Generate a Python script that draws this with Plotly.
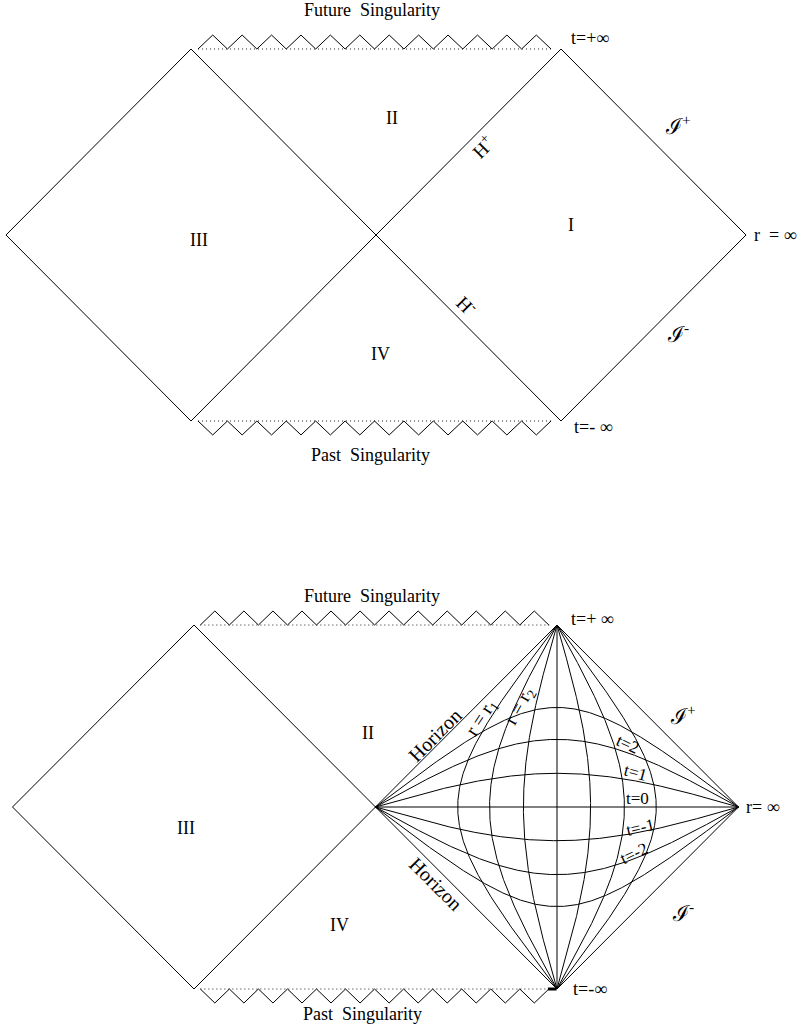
import numpy as np
import plotly.graph_objects as go

# ---------------- data (diagram units) ----------------
# constant-t curve parameters (kappa*t), t = -3..3
T_PARAMS = [-0.99, -0.62, -0.295, 0.0, 0.295, 0.62, 0.99]
# constant-r curve parameters (ln tan Q0)
R_PARAMS = [-0.99, -0.62, -0.295, 0.0, 0.295, 0.62, 0.99]
T_LABELS = ["t=2", "t=1", "t=0", "t=-1", "t=-2"]
REGION_LABELS = ["I", "II", "III", "IV"]
N_TEETH = 12

FONT = "Liberation Serif"
LINE = dict(color="black", width=1)

fig = go.Figure()

def add_line(xs, ys, ax, **kw):
    xa, ya = ax
    line = kw.pop("line", LINE)
    fig.add_trace(go.Scatter(x=xs, y=ys, mode="lines", line=line, xaxis=xa, yaxis=ya,
                             hoverinfo="skip", showlegend=False))

def outline(ax):
    add_line([-1, -2, -1], [1, 0, -1], ax)
    add_line([-1, 1], [1, -1], ax)
    add_line([-1, 1], [-1, 1], ax)
    add_line([1, 2, 1], [1, 0, -1], ax)

def singularities(ax, x0, x1, amp):
    # dotted lines
    add_line([x0, x1 + 0.01], [1, 1], ax, line=dict(color="#222", width=1, dash="1px,3px"))
    add_line([x0, x1 + 0.01], [-1, -1], ax, line=dict(color="#222", width=1, dash="1px,3px"))
    k = np.arange(2 * N_TEETH + 1)
    xs = x0 + (x1 - x0) * k / (2 * N_TEETH)
    bump = np.where(k % 2 == 1, amp, 0.0)
    add_line(xs, 1 + bump, ax)
    add_line(xs, -1 - bump, ax)

def PQ_to_XT(P, Q):
    return (Q - P) / (np.pi / 2), (Q + P) / (np.pi / 2)

TOP = ("x", "y")
BOT = ("x2", "y2")

# ---------- top diagram ----------
outline(TOP)
singularities(TOP, -0.962, 0.946, 0.075)

# ---------- bottom diagram ----------
outline(BOT)
singularities(BOT, -0.965, 0.955, 0.077)

th = np.linspace(0, np.pi / 2, 600)
for a in T_PARAMS:
    lam = np.tan(th)
    P = -np.arctan(lam)
    Q = np.arctan(lam * np.exp(2 * a))
    X, T = PQ_to_XT(P, Q)
    add_line(X, T, BOT)
for b in R_PARAMS:
    c = np.exp(2 * b)
    phi = th
    Q = phi
    with np.errstate(divide="ignore"):
        P = -np.arctan(c / np.tan(np.clip(phi, 1e-12, None)))
    X, T = PQ_to_XT(P, Q)
    add_line(X, T, BOT)
# small mark at t=-inf
add_line([0.95, 0.998], [-1.0, -1.0], BOT, line=dict(color="black", width=3))

# ---------------- annotations ----------------
def ann(text, x, y, ax, size=18, angle=0, xanchor="center"):
    fig.add_annotation(text=text, x=x, y=y, xref=ax[0], yref=ax[1], showarrow=False,
                       textangle=angle, xanchor=xanchor, yanchor="middle",
                       font=dict(family=FONT, size=size, color="black"))

# top
ann("Future  Singularity", -0.02, 1.21, TOP, 18)
ann("Past  Singularity", -0.03, -1.183, TOP, 18)
ann("t=+∞", 1.157, 1.06, TOP, 18)
ann("t=- ∞", 1.173, -1.032, TOP, 18)
ann("r  = ∞", 2.035, 0.0, TOP, 18, xanchor="left")
ann(REGION_LABELS[0], 1.054, 0.054, TOP, 18)
ann(REGION_LABELS[1], 0.086, 0.629, TOP, 18)
ann(REGION_LABELS[2], -0.957, -0.027, TOP, 18)
ann(REGION_LABELS[3], 0.022, -0.64, TOP, 18)
ann("H<sup>+</sup>", 0.573, 0.473, TOP, 19, -45)
ann("H<sup>-</sup>", 0.492, -0.376, TOP, 19, 45)
ann("ℐ<sup>+</sup>", 1.63, 0.59, TOP, 22)
ann("ℐ<sup>-</sup>", 1.63, -0.527, TOP, 22)

# bottom
ann("Future  Singularity", -0.019, 1.159, BOT, 18)
ann("Past  Singularity", -0.069, -1.137, BOT, 18)
ann("t=+ ∞", 1.198, 1.033, BOT, 18)
ann("t=-∞", 1.182, -1.0, BOT, 18)
ann("r= ∞", 2.03, 0.0, BOT, 18, xanchor="left")
ann(REGION_LABELS[1], -0.041, 0.407, BOT, 18)
ann(REGION_LABELS[2], -1.044, -0.115, BOT, 18)
ann(REGION_LABELS[3], -0.201, -0.648, BOT, 18)
ann("Horizon", 0.328, 0.396, BOT, 20, -45)
ann("Horizon", 0.333, -0.423, BOT, 20, 45)
ann("r = r<sub>1</sub>", 0.585, 0.49, BOT, 19, -57)
ann("r = r<sub>2</sub>", 0.796, 0.555, BOT, 19, -61)
ann("ℐ<sup>+</sup>", 1.694, 0.505, BOT, 22)
ann("ℐ<sup>-</sup>", 1.694, -0.577, BOT, 22)
t_pos = [(1.391, 0.341, 25), (1.43, 0.187, 15), (1.446, 0.044, 0),
         (1.457, -0.11, -13), (1.424, -0.258, -25)]
for lab, (x, y, a) in zip(T_LABELS, t_pos):
    ann(lab, x, y, BOT, 17, a)

# ---------------- layout ----------------
hid = dict(visible=False, showgrid=False, zeroline=False, fixedrange=True)
fig.update_layout(
    width=802, height=1028, margin=dict(l=0, r=0, t=0, b=0),
    paper_bgcolor="white", plot_bgcolor="white", showlegend=False,
    xaxis=dict(domain=[0, 1], range=[-2.0324, 2.3027], anchor="y", **hid),
    yaxis=dict(domain=[0.5, 1], range=[-1.5, 1.2634], anchor="x", **hid),
    xaxis2=dict(domain=[0, 1], range=[-2.0689, 2.3499], anchor="y2", **hid),
    yaxis2=dict(domain=[0, 0.5], range=[-1.2143, 1.6099], anchor="x2", **hid),
)

fig.write_html("out.html", config=dict(displayModeBar=False, staticPlot=True))
